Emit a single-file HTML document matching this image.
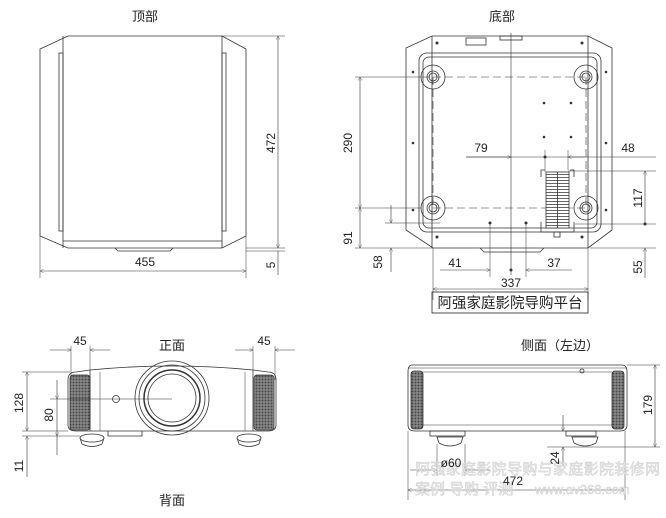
<!DOCTYPE html>
<html><head><meta charset="utf-8"><style>
body{margin:0;background:#fff;width:666px;height:518px;overflow:hidden}
svg{display:block}
text{font-family:"Liberation Sans","Noto Sans CJK SC",sans-serif;fill:#222}
text.wm{fill:#ececec;stroke:#cfcfcf;stroke-width:0.5}
</style></head><body>
<svg width="666" height="518" viewBox="0 0 666 518" xmlns="http://www.w3.org/2000/svg">
<defs>
<marker id="a" viewBox="0 0 10 10" refX="10" refY="5" markerWidth="9" markerHeight="6" orient="auto-start-reverse"><path d="M0,0 L10,5 L0,10" fill="none" stroke="#333" stroke-width="1"/></marker>
<pattern id="g" width="3" height="3" patternUnits="userSpaceOnUse"><rect width="3" height="3" fill="#999"/><rect x="0.5" y="0.5" width="2" height="2" fill="#444"/></pattern>
<pattern id="h" width="4" height="3" patternUnits="userSpaceOnUse"><rect width="4" height="3" fill="#fff"/><rect y="0" width="4" height="1" fill="#666"/></pattern>
</defs>
<g fill="none" stroke="#333" stroke-width="0.8">
<!-- TOP VIEW -->
<path d="M68,36 L222,36 L246,49 L246,236 L222,248 L68,248 L40,236 L40,49 Z"/>
<line x1="63" y1="36" x2="63" y2="248"/><line x1="222" y1="36" x2="222" y2="248"/>
<rect x="59" y="53" width="4" height="178"/><rect x="222" y="53" width="4" height="178"/>
<line x1="63" y1="241" x2="222" y2="241"/><path d="M115,248 L118,251 L170,251 L173,248"/>
<line x1="222" y1="36" x2="285" y2="36" stroke-width="0.5"/><line x1="246" y1="248" x2="285" y2="248" stroke-width="0.5"/><line x1="246" y1="251" x2="285" y2="251" stroke-width="0.5"/>
<line x1="278" y1="36" x2="278" y2="248" marker-start="url(#a)" marker-end="url(#a)" stroke-width="0.6"/>
<line x1="278" y1="251" x2="278" y2="275" stroke-width="0.6"/>
<line x1="40" y1="236" x2="40" y2="278" stroke-width="0.5"/><line x1="246" y1="236" x2="246" y2="278" stroke-width="0.5"/>
<line x1="40" y1="271" x2="246" y2="271" marker-start="url(#a)" marker-end="url(#a)" stroke-width="0.6"/>

<!-- BOTTOM VIEW -->
<path d="M432,36 L588,36 L612,48 L612,230 L588,248 L433,248 L406,230 L406,48 Z"/>
<line x1="432" y1="36" x2="432" y2="248"/><line x1="588" y1="36" x2="588" y2="248"/>
<rect x="419" y="53" width="182" height="179" rx="8"/>
<rect x="423" y="57" width="174" height="171" rx="6"/>
<path d="M480,248 L484,252 L540,252 L544,248"/>
<rect x="466" y="38" width="20" height="7"/><rect x="500" y="36" width="22" height="4"/>
<g stroke-dasharray="8,4" stroke-width="0.6"><line x1="433" y1="77" x2="586" y2="77"/><line x1="433" y1="208" x2="586" y2="208"/><line x1="433" y1="77" x2="433" y2="208"/><line x1="586" y1="77" x2="586" y2="208"/></g>
<g><circle cx="433" cy="77" r="12"/><circle cx="433" cy="77" r="6"/><circle cx="433" cy="77" r="4"/>
<circle cx="586" cy="77" r="12"/><circle cx="586" cy="77" r="6"/><circle cx="586" cy="77" r="4"/>
<circle cx="433" cy="208" r="12"/><circle cx="433" cy="208" r="6"/><circle cx="433" cy="208" r="4"/>
<circle cx="586" cy="208" r="12"/><circle cx="586" cy="208" r="6"/><circle cx="586" cy="208" r="4"/></g>
<line x1="511" y1="33" x2="511" y2="275" stroke-width="0.6"/>
<rect x="546" y="172" width="23" height="56" fill="url(#h)" stroke="#333"/>
<line x1="557.5" y1="172" x2="557.5" y2="228"/>
<path d="M541,177 L541,170 L545,170 M574,177 L574,170 L570,170 M541,222 L541,232 L574,232 L574,222"/>
<rect x="554" y="232" width="6" height="5"/>
<g fill="#333" stroke="none"><circle cx="544" cy="103" r="1.3"/><circle cx="571" cy="103" r="1.3"/><circle cx="544" cy="137" r="1.3"/><circle cx="571" cy="137" r="1.3"/><circle cx="545" cy="157" r="1.5"/><circle cx="490" cy="223" r="1.5"/><circle cx="526" cy="223" r="1.5"/><circle cx="511" cy="270" r="1.5"/><circle cx="645" cy="224" r="1.5"/><circle cx="437" cy="43" r="1.5"/><circle cx="582" cy="43" r="1.5"/><circle cx="437" cy="237" r="1.5"/><circle cx="582" cy="237" r="1.5"/><circle cx="413" cy="72" r="1.3"/><circle cx="413" cy="143" r="1.3"/><circle cx="413" cy="210" r="1.3"/><circle cx="606" cy="72" r="1.3"/><circle cx="606" cy="143" r="1.3"/><circle cx="606" cy="210" r="1.3"/></g>
<g stroke-width="0.5">
<line x1="355" y1="77" x2="430" y2="77"/><line x1="355" y1="208" x2="421" y2="208"/><line x1="355" y1="248" x2="433" y2="248"/><line x1="385" y1="223" x2="440" y2="223"/>
<line x1="568" y1="171" x2="656" y2="171"/><line x1="575" y1="224" x2="656" y2="224"/><line x1="590" y1="248" x2="656" y2="248"/>
<line x1="466" y1="157" x2="656" y2="157"/><line x1="568" y1="150" x2="568" y2="170"/><line x1="545" y1="150" x2="545" y2="172"/>
<line x1="490" y1="223" x2="490" y2="277"/><line x1="526" y1="223" x2="526" y2="277"/>
<line x1="433" y1="248" x2="433" y2="300"/><line x1="588" y1="248" x2="588" y2="300"/>
</g>
<g stroke-width="0.6">
<line x1="360" y1="77" x2="360" y2="208" marker-start="url(#a)" marker-end="url(#a)"/>
<line x1="360" y1="208" x2="360" y2="248" marker-start="url(#a)" marker-end="url(#a)"/>
<line x1="391" y1="205" x2="391" y2="223" marker-end="url(#a)"/><line x1="391" y1="248" x2="391" y2="272" marker-start="url(#a)"/>
<line x1="645" y1="171" x2="645" y2="224" marker-start="url(#a)"/><line x1="645" y1="248" x2="645" y2="278" marker-start="url(#a)"/>
<line x1="466" y1="157" x2="511" y2="157" marker-end="url(#a)"/><line x1="568" y1="157" x2="585" y2="157" marker-start="url(#a)"/>
<line x1="440" y1="270" x2="490" y2="270" marker-end="url(#a)"/><line x1="526" y1="270" x2="572" y2="270" marker-start="url(#a)"/>
<line x1="433" y1="289" x2="588" y2="289" marker-start="url(#a)" marker-end="url(#a)"/>
</g>
<rect x="432" y="292" width="156" height="21" stroke="#222"/>

<!-- FRONT VIEW -->
<path d="M68,380 Q68,372 76,372 L90,370 Q172,362 253,370 L268,372 Q276,372 276,380 L276,425 Q276,431 268,431 L76,431 Q68,431 68,425 Z"/>
<rect x="70" y="375" width="20" height="55" fill="url(#g)" stroke="#333" rx="3"/>
<rect x="254" y="375" width="20" height="55" fill="url(#g)" stroke="#333" rx="3"/>
<line x1="90" y1="370" x2="90" y2="431"/><line x1="253" y1="370" x2="253" y2="431"/><line x1="100" y1="372" x2="100" y2="431" stroke-width="0.5"/><line x1="245" y1="372" x2="245" y2="431" stroke-width="0.5"/>
<circle cx="172" cy="398" r="37"/><circle cx="172" cy="398" r="33"/><circle cx="172" cy="398" r="28" stroke-width="1.5"/><circle cx="172" cy="398" r="24"/>
<circle cx="116" cy="399" r="3.5"/>
<line x1="50" y1="399" x2="172" y2="399" stroke-width="0.6"/>
<path d="M108,431 L108,436 L142,436 L142,431"/>
<ellipse cx="92" cy="438" rx="12" ry="4"/><path d="M80,438 L82,444 Q92,449 102,444 L104,438"/>
<ellipse cx="249" cy="438" rx="12" ry="4"/><path d="M237,438 L239,444 Q249,449 259,444 L261,438"/>
<g stroke-width="0.5"><line x1="71" y1="346" x2="71" y2="380"/><line x1="90" y1="346" x2="90" y2="370"/><line x1="253" y1="346" x2="253" y2="370"/><line x1="275" y1="346" x2="275" y2="380"/>
<line x1="22" y1="372" x2="70" y2="372"/><line x1="22" y1="431" x2="68" y2="431"/><line x1="22" y1="436" x2="80" y2="436"/></g>
<g stroke-width="0.6">
<line x1="50" y1="350" x2="71" y2="350" marker-end="url(#a)"/><line x1="90" y1="350" x2="110" y2="350" marker-start="url(#a)"/>
<line x1="235" y1="350" x2="253" y2="350" marker-end="url(#a)"/><line x1="275" y1="350" x2="295" y2="350" marker-start="url(#a)"/>
<line x1="27" y1="372" x2="27" y2="431" marker-start="url(#a)" marker-end="url(#a)"/>
<line x1="57" y1="380" x2="57" y2="399" marker-end="url(#a)"/><line x1="57" y1="399" x2="57" y2="436" marker-end="url(#a)"/><line x1="57" y1="436" x2="57" y2="455"/>
<line x1="27" y1="436" x2="27" y2="477" marker-start="url(#a)"/>
</g>

<!-- SIDE VIEW -->
<path d="M412,365 L622,365 Q627,365 627,372 L627,425 Q627,431 620,431 L415,431 Q408,431 408,425 L408,372 Q408,365 412,365 Z"/>
<line x1="408" y1="368" x2="627" y2="368" stroke-width="0.5"/>
<rect x="411" y="371" width="12" height="58" fill="url(#g)" stroke="#333" rx="3"/>
<rect x="612" y="371" width="12" height="58" fill="url(#g)" stroke="#333" rx="3"/>
<line x1="423" y1="372" x2="612" y2="372" stroke-width="0.5"/><line x1="423" y1="425" x2="612" y2="425" stroke-width="0.5"/>
<circle cx="582" cy="371" r="2"/>
<rect x="430" y="431" width="35" height="5"/><rect x="566" y="431" width="30" height="5"/>
<path d="M437,437 L439,443 Q450,449 461,443 L463,437 Z"/>
<path d="M572,437 L574,443 Q585,449 596,443 L598,437 Z"/>
<g stroke-width="0.5"><line x1="627" y1="365" x2="660" y2="365"/><line x1="547" y1="447" x2="660" y2="447"/><line x1="408" y1="431" x2="408" y2="500"/><line x1="625" y1="431" x2="625" y2="500"/><line x1="437" y1="444" x2="437" y2="476"/><line x1="465" y1="444" x2="465" y2="476"/></g>
<g stroke-width="0.6">
<line x1="655" y1="365" x2="655" y2="447" marker-start="url(#a)" marker-end="url(#a)"/>
<line x1="563" y1="415" x2="563" y2="431" marker-end="url(#a)"/><line x1="563" y1="447" x2="563" y2="465" marker-start="url(#a)"/>
<line x1="410" y1="470" x2="437" y2="470" marker-end="url(#a)"/><line x1="465" y1="470" x2="490" y2="470" marker-start="url(#a)"/>
<line x1="408" y1="490" x2="625" y2="490" marker-start="url(#a)" marker-end="url(#a)"/>
</g>
</g>

<g font-size="13">
<text x="145" y="21" text-anchor="middle">顶部</text>
<text x="502" y="21" text-anchor="middle">底部</text>
<text x="172" y="350" text-anchor="middle">正面</text>
<text x="172" y="505" text-anchor="middle">背面</text>
<text x="560" y="350" text-anchor="middle">侧面（左边）</text>
</g>
<g font-size="15">
<text class="wm" x="415" y="474" textLength="245">阿强家庭影院导购与家庭影院装修网</text>
<text class="wm" x="415" y="494">案例 导购 评测</text>
<text class="wm" x="535" y="494" font-size="13">www.av268.com</text>
</g>
<g font-size="12">
<text x="145" y="266" text-anchor="middle">455</text>
<text transform="translate(275,143) rotate(-90)" text-anchor="middle">472</text>
<text transform="translate(275,265) rotate(-90)" text-anchor="middle">5</text>
<text transform="translate(352,143) rotate(-90)" text-anchor="middle">290</text>
<text transform="translate(352,238) rotate(-90)" text-anchor="middle">91</text>
<text transform="translate(382,262) rotate(-90)" text-anchor="middle">58</text>
<text transform="translate(642,198) rotate(-90)" text-anchor="middle">117</text>
<text transform="translate(642,267) rotate(-90)" text-anchor="middle">55</text>
<text x="481" y="152" text-anchor="middle">79</text>
<text x="628" y="152" text-anchor="middle">48</text>
<text x="455" y="267" text-anchor="middle">41</text>
<text x="554" y="267" text-anchor="middle">37</text>
<text x="511" y="287" text-anchor="middle">337</text>
<text x="80" y="345" text-anchor="middle">45</text>
<text x="264" y="345" text-anchor="middle">45</text>
<text transform="translate(23,403) rotate(-90)" text-anchor="middle">128</text>
<text transform="translate(53,415) rotate(-90)" text-anchor="middle">80</text>
<text transform="translate(23,466) rotate(-90)" text-anchor="middle">11</text>
<text transform="translate(652,405) rotate(-90)" text-anchor="middle">179</text>
<text transform="translate(559,458) rotate(-90)" text-anchor="middle">24</text>
<text x="451" y="467" text-anchor="middle">ø60</text>
<text x="513" y="485" text-anchor="middle">472</text>
</g>
<text x="510" y="308" text-anchor="middle" font-size="14.5" fill="#111">阿强家庭影院导购平台</text>
</svg>
</body></html>
